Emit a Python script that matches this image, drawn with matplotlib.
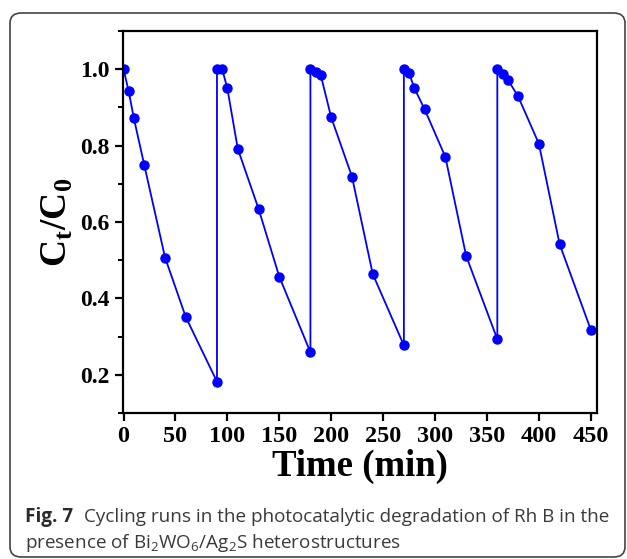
import matplotlib
matplotlib.use("Agg")
import matplotlib.pyplot as plt
from matplotlib.patches import FancyBboxPatch
from matplotlib.ticker import MultipleLocator

# five cycles, each one drawn with the jump back to 1.0
time_min = [0, 5, 10, 20, 40, 60, 90,
            90, 95, 100, 110, 130, 150, 180,
            180, 185, 190, 200, 220, 240, 270,
            270, 275, 280, 290, 310, 330, 360,
            360, 365, 370, 380, 400, 420, 450]
ct_c0 = [1.0, 0.942, 0.871, 0.749, 0.507, 0.351, 0.182,
         1.0, 1.0, 0.95, 0.792, 0.635, 0.457, 0.259,
         1.0, 0.993, 0.984, 0.874, 0.719, 0.464, 0.277,
         1.0, 0.99, 0.951, 0.895, 0.770, 0.511, 0.293,
         1.0, 0.988, 0.973, 0.929, 0.805, 0.542, 0.318]
x_ticks = [0, 50, 100, 150, 200, 250, 300, 350, 400, 450]
y_ticks = [0.2, 0.4, 0.6, 0.8, 1.0]

plt.rcParams['mathtext.fontset'] = 'custom'
plt.rcParams['mathtext.rm'] = 'Open Sans'
plt.rcParams['mathtext.bf'] = 'Liberation Serif:bold'

fig = plt.figure(figsize=(6.27, 5.59), dpi=100)

# rounded frame round the whole figure
frame = FancyBboxPatch((10 / 627, 2 / 559), 615 / 627, 544 / 559,
                       boxstyle="round,pad=0,rounding_size=0.018",
                       transform=fig.transFigure, fill=False,
                       edgecolor='#444444', linewidth=1.2)
fig.patches.append(frame)

ax = fig.add_axes([123 / 627, 1 - 413 / 559, 474 / 627, 382 / 559])
ax.plot(time_min, ct_c0, color='#0000ff', linewidth=1.3,
        marker='o', markersize=6.5)

ax.set_xlim(-0.5, 456)
ax.set_ylim(0.1, 1.1)
ax.set_xticks(x_ticks)
ax.set_yticks(y_ticks)
ax.yaxis.set_minor_locator(MultipleLocator(0.1))

for s in ax.spines.values():
    s.set_linewidth(1.6)
ax.tick_params(which='major', direction='out', length=6, width=1.6,
               top=False, right=False)
ax.tick_params(which='minor', direction='out', length=3.5, width=1.4,
               top=False, right=False)
for lab in ax.get_xticklabels():
    lab.set_fontfamily('Liberation Serif')
    lab.set_fontweight('bold')
    lab.set_fontsize(17.5)
for lab in ax.get_yticklabels():
    lab.set_fontfamily('Liberation Serif')
    lab.set_fontweight('bold')
    lab.set_fontsize(17)

ax.set_xlabel('Time (min)', fontfamily='Liberation Serif', fontweight='bold',
              fontsize=26.5, labelpad=1)
ax.set_ylabel(r'$\mathbf{C}_\mathbf{t}\mathbf{/C}_\mathbf{0}$', fontsize=27,
              labelpad=4)

# caption
fig.text(25 / 627, 1 - 522 / 559, 'Fig. 7', fontfamily='Open Sans',
         fontweight='bold', fontsize=13.6, color='#2b2b2b', va='baseline')
fig.text(84 / 627, 1 - 522 / 559,
         'Cycling runs in the photocatalytic degradation of Rh B in the',
         fontfamily='Open Sans', fontsize=13.6, color='#3a3a3a', va='baseline')
fig.text(25 / 627, 1 - 548 / 559,
         r'presence of Bi$_2$WO$_6$/Ag$_2$S heterostructures',
         fontfamily='Open Sans', fontsize=13.6, color='#3a3a3a', va='baseline')

fig.savefig('out.png', dpi=100)
